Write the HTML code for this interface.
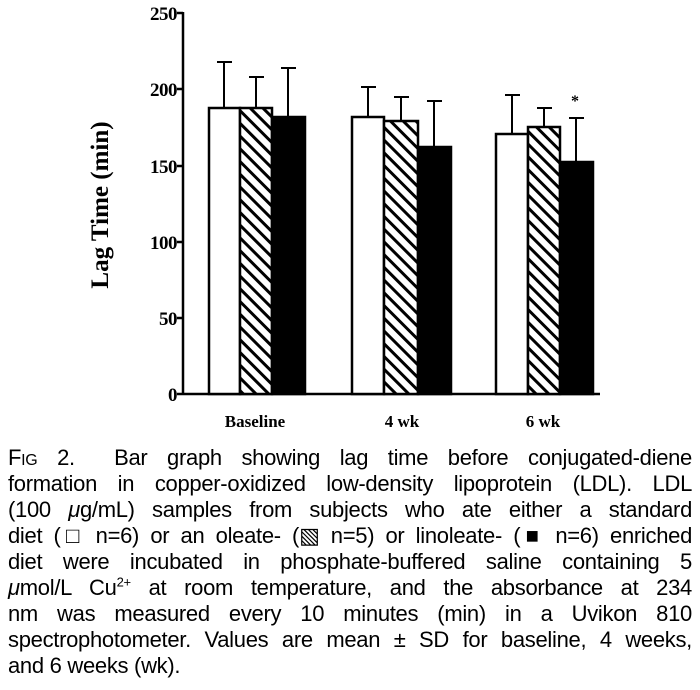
<!DOCTYPE html>
<html><head><meta charset="utf-8"><style>
body{margin:0;width:700px;height:690px;background:#fff;overflow:hidden;font-family:"Liberation Sans",sans-serif;}
.cap{position:absolute;left:8px;top:445px;width:684px;font-size:22px;line-height:26px;color:#000;letter-spacing:-0.3px}
.cap div{text-align:justify;text-align-last:justify;white-space:nowrap;height:26px}
.cap div.last{text-align-last:left}
</style></head><body>
<svg width="700" height="440" style="position:absolute;left:0;top:0" xmlns="http://www.w3.org/2000/svg">
<defs><pattern id="h" patternUnits="userSpaceOnUse" width="9" height="9" patternTransform="rotate(-45)"><rect width="9" height="9" fill="#fff"/><rect x="0" y="0" width="3" height="9" fill="#000"/></pattern></defs>
<g stroke="#000" stroke-width="2.5" fill="none">
<line x1="183" y1="12" x2="183" y2="395"/>
<line x1="183" y1="394" x2="600" y2="394"/>
<line x1="177" y1="13" x2="183" y2="13"/><line x1="177" y1="89" x2="183" y2="89"/><line x1="177" y1="166" x2="183" y2="166"/><line x1="177" y1="242" x2="183" y2="242"/><line x1="177" y1="318" x2="183" y2="318"/><line x1="177" y1="394" x2="183" y2="394"/>
</g>
<g font-family="Liberation Serif" font-weight="bold" font-size="19" text-anchor="end" letter-spacing="-0.5">
<text x="177" y="20">250</text><text x="177" y="96">200</text><text x="177" y="173">150</text><text x="177" y="249">100</text><text x="177" y="325">50</text><text x="177" y="401">0</text>
</g>
<text transform="translate(108,205) rotate(-90)" text-anchor="middle" font-family="Liberation Serif" font-weight="bold" font-size="25">Lag Time (min)</text>
<g font-family="Liberation Serif" font-weight="bold" font-size="17" text-anchor="middle">
<text x="255" y="427">Baseline</text><text x="402" y="427">4 wk</text><text x="543" y="427">6 wk</text>
</g>
<g stroke="#000" stroke-width="2">
<line x1="224" y1="108" x2="224" y2="62"/><line x1="217" y1="62" x2="232" y2="62"/>
<line x1="256" y1="108" x2="256" y2="77"/><line x1="249" y1="77" x2="264" y2="77"/>
<line x1="288" y1="117" x2="288" y2="68"/><line x1="281" y1="68" x2="296" y2="68"/>
<line x1="368" y1="117" x2="368" y2="87"/><line x1="361" y1="87" x2="376" y2="87"/>
<line x1="401" y1="121" x2="401" y2="97"/><line x1="394" y1="97" x2="409" y2="97"/>
<line x1="434" y1="147" x2="434" y2="101"/><line x1="427" y1="101" x2="442" y2="101"/>
<line x1="512" y1="134" x2="512" y2="95"/><line x1="505" y1="95" x2="520" y2="95"/>
<line x1="544" y1="127" x2="544" y2="108"/><line x1="537" y1="108" x2="552" y2="108"/>
<line x1="576" y1="162" x2="576" y2="118"/><line x1="569" y1="118" x2="584" y2="118"/>
</g>
<g stroke="#000" stroke-width="2.5">
<rect x="209" y="108" width="31" height="286" fill="#fff"/>
<rect x="240" y="108" width="32" height="286" fill="url(#h)"/>
<rect x="272" y="117" width="33" height="277" fill="#000"/>
<rect x="352" y="117" width="32" height="277" fill="#fff"/>
<rect x="384" y="121" width="34" height="273" fill="url(#h)"/>
<rect x="418" y="147" width="33" height="247" fill="#000"/>
<rect x="496" y="134" width="32" height="260" fill="#fff"/>
<rect x="528" y="127" width="32" height="267" fill="url(#h)"/>
<rect x="560" y="162" width="33" height="232" fill="#000"/>
</g>
<text x="575" y="106" font-family="Liberation Serif" font-weight="bold" font-size="16" text-anchor="middle">*</text>
</svg>
<div class="cap">
<div>F<span style="font-size:16px">IG</span> 2.&nbsp; Bar graph showing lag time before conjugated-diene</div>
<div>formation in copper-oxidized low-density lipoprotein (LDL). LDL</div>
<div>(100 <i>μ</i>g/mL) samples from subjects who ate either a standard</div>
<div>diet (□ n=6) or an oleate- (▧ n=5) or linoleate- (■ n=6) enriched</div>
<div>diet were incubated in phosphate-buffered saline containing 5</div>
<div><i>μ</i>mol/L Cu<sup style="font-size:13px;line-height:0">2+</sup> at room temperature, and the absorbance at 234</div>
<div>nm was measured every 10 minutes (min) in a Uvikon 810</div>
<div>spectrophotometer. Values are mean ± SD for baseline, 4 weeks,</div>
<div class="last">and 6 weeks (wk).</div>
</div>
</body></html>
